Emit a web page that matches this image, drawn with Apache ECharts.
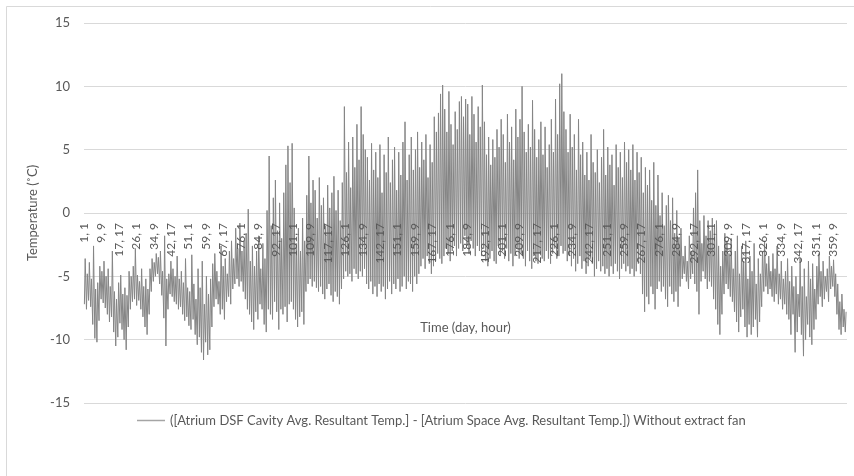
<!DOCTYPE html>
<html>
<head>
<meta charset="utf-8">
<script src="https://cdn.jsdelivr.net/npm/echarts@6/dist/echarts.min.js"></script>
<style>
html,body{margin:0;padding:0;background:#fff;}
#chart{width:854px;height:476px;}
</style>
</head>
<body>
<div id="chart"></div>
<script>
// Daily minimum (night) values of the temperature difference, days 1..365
const dayLow = [
-7.2,-7.6,-6.9,-7.4,-8.8,-9.9,-10.2,-8.5,-6.8,-7.1,
-7.5,-8.0,-8.6,-8.2,-9.4,-10.5,-9.8,-8.7,-9.2,-10.0,
-10.8,-9.0,-7.6,-7.0,-6.8,-7.3,-6.9,-7.6,-8.2,-9.0,
-9.6,-8.0,-6.2,-5.4,-5.0,-4.8,-5.6,-6.5,-8.3,-10.5,
-7.6,-6.4,-6.6,-7.0,-7.2,-7.6,-7.4,-8.0,-8.5,-8.2,
-8.9,-9.2,-8.4,-9.6,-10.4,-9.8,-11.0,-11.6,-10.2,-11.2,
-10.8,-9.0,-7.4,-6.8,-7.2,-8.0,-7.6,-8.4,-7.0,-6.6,
-7.2,-6.0,-5.6,-5.2,-5.8,-5.4,-6.2,-6.8,-7.6,-8.0,
-8.6,-9.2,-7.8,-8.4,-7.2,-7.6,-8.8,-9.4,-7.6,-8.0,
-8.4,-7.0,-7.8,-9.2,-7.6,-8.0,-7.4,-8.6,-7.2,-7.0,
-7.6,-8.4,-9.0,-8.2,-7.8,-8.8,-6.2,-5.6,-5.2,-5.8,
-5.4,-5.9,-6.2,-5.8,-6.4,-6.8,-6.0,-5.6,-6.5,-7.0,
-6.2,-6.6,-7.2,-6.0,-5.2,-4.6,-5.0,-4.8,-5.4,-4.4,
-4.8,-5.2,-4.6,-5.0,-4.4,-5.6,-6.0,-5.4,-6.4,-5.8,
-6.6,-5.6,-6.2,-5.8,-6.8,-6.0,-5.4,-6.4,-5.6,-6.0,
-5.2,-6.2,-5.8,-5.0,-6.0,-5.4,-5.6,-6.2,-5.0,-5.6,
-4.8,-4.2,-3.6,-4.4,-3.4,-4.0,-4.8,-4.2,-3.8,-3.2,
-3.6,-4.0,-3.4,-2.8,-3.2,-3.8,-3.0,-2.6,-3.4,-2.8,
-2.4,-3.0,-1.8,-2.6,-3.2,-2.2,-2.8,-3.4,-2.6,-3.0,
-3.4,-2.8,-3.8,-4.2,-3.6,-3.0,-3.8,-4.0,-2.6,-3.4,
-3.0,-3.6,-2.8,-3.8,-3.2,-4.2,-3.4,-2.8,-3.6,-3.2,
-3.6,-4.2,-3.0,-3.8,-4.4,-3.4,-3.8,-4.0,-3.2,-3.6,
-3.8,-3.0,-3.6,-4.0,-3.2,-2.8,-3.6,-3.4,-2.6,-3.2,
-3.0,-3.8,-3.4,-4.2,-3.6,-4.6,-4.0,-3.4,-4.4,-3.8,
-4.8,-4.2,-3.6,-4.0,-5.0,-4.4,-3.8,-4.6,-4.2,-4.8,
-4.4,-5.0,-4.2,-4.8,-4.0,-4.6,-5.2,-4.4,-4.0,-4.6,
-4.2,-4.8,-4.4,-5.0,-4.6,-4.0,-4.8,-6.4,-7.8,-6.6,
-7.2,-5.8,-6.4,-7.6,-6.0,-5.4,-6.2,-5.8,-6.8,-7.4,
-5.8,-6.4,-7.0,-6.2,-7.4,-5.8,-5.2,-4.8,-5.4,-6.0,
-5.2,-4.8,-5.6,-6.2,-8.0,-5.4,-4.6,-5.2,-6.0,-5.4,
-5.8,-6.8,-7.6,-8.8,-9.6,-8.0,-6.4,-5.6,-6.0,-6.6,
-7.0,-7.8,-8.6,-9.4,-8.2,-7.6,-9.0,-9.8,-8.8,-9.6,
-9.0,-8.4,-9.8,-8.6,-7.4,-6.2,-5.8,-6.4,-6.0,-6.6,
-7.0,-6.4,-7.2,-6.8,-7.6,-7.2,-8.0,-8.4,-9.6,-8.0,
-11.0,-9.4,-8.2,-9.6,-11.3,-10.0,-8.8,-9.8,-10.4,-9.2,
-8.4,-7.2,-6.6,-7.4,-6.8,-6.2,-7.0,-6.0,-5.8,-6.6,
-8.0,-9.2,-9.6,-9.0,-9.4
];
// Daily maximum (day-time peak) values, days 1..365
const dayHigh = [
-3.6,-4.8,-3.9,-5.2,-2.6,-6.0,-5.5,-4.2,-4.6,-3.8,
-5.0,-4.4,-5.8,-3.0,-6.2,-6.8,-5.5,-4.9,-6.4,-5.9,
-6.5,-4.6,-5.0,-4.2,-2.8,-4.9,-5.4,-4.4,-5.8,-5.2,
-6.0,-4.4,-3.6,-3.9,-3.2,-3.5,-3.0,-4.6,-1.8,-5.2,
-4.8,-3.8,-4.4,-5.0,-3.4,-5.2,-4.6,-5.5,-3.6,-5.9,
-6.2,-3.3,-5.6,-6.8,-4.4,-5.9,-3.8,-7.2,-5.0,-6.4,
-5.2,-4.0,-3.2,-4.6,-5.4,-2.6,-4.2,-3.6,-4.8,-3.0,
-2.2,-3.6,-1.2,-2.8,-0.8,-3.0,-2.2,-1.6,0.3,-3.8,
-2.6,-4.2,-3.0,-1.8,-4.4,-2.4,-3.6,0.2,4.5,-1.0,
1.2,2.6,-1.4,0.8,-2.0,1.6,3.8,5.3,2.4,5.5,
0.4,-2.4,-1.2,-3.0,-0.4,-2.2,1.4,4.5,0.8,2.6,
1.8,-0.4,2.8,0.6,1.2,-1.0,2.2,0.4,1.6,2.9,
0.2,1.8,-0.6,2.4,8.4,3.2,5.6,2.0,6.0,3.6,
7.0,4.2,8.4,6.2,5.0,4.4,2.6,5.5,3.4,4.8,
2.8,5.4,1.6,4.6,3.2,6.0,2.4,4.2,5.2,1.8,
4.8,3.0,5.6,7.2,2.6,4.6,6.0,3.4,5.0,6.4,
3.6,5.6,4.2,6.2,2.8,5.4,4.0,7.6,6.4,7.9,
9.4,10.1,8.2,6.4,9.6,7.0,5.4,8.0,6.6,8.8,
9.2,7.6,9.0,8.6,6.2,9.2,7.8,5.6,8.4,6.8,
10.1,7.2,4.6,6.0,3.8,5.8,4.4,6.6,5.2,7.4,
6.2,4.0,7.8,5.6,6.8,4.2,8.2,6.0,7.4,10.0,
6.4,4.8,7.0,5.2,8.9,6.6,4.4,5.8,7.2,4.6,
6.8,3.6,5.4,7.4,4.8,9.0,6.2,10.2,11.0,8.0,
6.6,4.8,7.8,5.2,6.2,3.4,7.4,4.6,5.6,3.0,
4.8,2.6,6.2,4.0,3.2,5.0,2.4,4.4,6.6,3.0,
5.2,3.8,4.6,2.2,5.4,3.6,4.8,2.8,5.6,4.0,
5.0,3.4,5.4,2.6,4.8,3.2,4.4,1.6,3.6,2.2,
3.4,1.0,4.0,0.6,3.0,-0.2,1.6,-1.0,0.6,1.4,
-0.6,1.2,-1.6,0.2,-2.0,-1.2,-3.4,-2.6,-3.8,-1.8,
-3.0,0.4,1.6,3.4,-0.6,-2.4,-0.2,-1.8,-0.6,-1.4,
-0.4,-1.2,-0.6,-2.6,-4.2,-3.0,-1.6,-2.2,-3.2,-2.0,
-4.4,-3.0,-1.8,-4.8,-2.6,-3.8,-2.2,-5.2,-3.4,-4.6,
-2.4,-5.6,-3.6,-4.8,-3.0,-2.2,-4.0,-3.4,-4.6,-3.2,
-4.4,-2.6,-4.8,-3.8,-5.2,-4.6,-3.6,-5.4,-4.2,-5.8,
-5.0,-6.4,-3.6,-5.8,-4.4,-6.6,-3.8,-5.2,-4.0,-6.0,
-4.2,-3.2,-4.6,-3.8,-5.0,-4.4,-3.4,-4.2,-3.7,-4.8,
-5.6,-7.0,-6.4,-7.6,-7.8
];
const dayCount = 365;
const hoursPerDay = 24;
const lowHour = 5;   // hour of day where the minimum is placed
const highHour = 14; // hour of day where the maximum is placed
const yTicks = { min: -15, max: 15, step: 5 };
const seriesName = '([Atrium DSF Cavity Avg. Resultant Temp.] - [Atrium Space Avg. Resultant Temp.]) Without extract fan';
const xTitle = 'Time (day, hour)';
const yTitle = 'Temperature (\u02DAC)';

// category axis: one category per hour, labelled "day, hour"
const categories = [];
for (let d = 1; d <= dayCount; d++) {
  for (let h = 1; h <= hoursPerDay; h++) categories.push(d + ', ' + h);
}
const seriesData = [];
for (let d = 0; d < dayCount; d++) {
  seriesData.push([d * hoursPerDay + lowHour - 1, dayLow[d]]);
  seriesData.push([d * hoursPerDay + highHour - 1, dayHigh[d]]);
}

const GRID = { left: 84, right: 7, top: 23, bottom: 73 };
const plotHeight = 476 - GRID.top - GRID.bottom;
// move the category axis up to the value 0 (as in the original chart)
const zeroOffset = -plotHeight * (0 - yTicks.min) / (yTicks.max - yTicks.min);

const FONT = 'Lato';
const chart = echarts.init(document.getElementById('chart'), null, { renderer: 'canvas' });
chart.setOption({
  animation: false,
  backgroundColor: '#ffffff',
  textStyle: { fontFamily: FONT },
  graphic: [
    { type: 'line', shape: { x1: 6.5, y1: 6.5, x2: 854, y2: 6.5 }, style: { stroke: '#d9d9d9', lineWidth: 1 }, silent: true },
    { type: 'line', shape: { x1: 6.5, y1: 6.5, x2: 6.5, y2: 476 }, style: { stroke: '#d9d9d9', lineWidth: 1 }, silent: true }
  ],
  grid: { left: GRID.left, right: GRID.right, top: GRID.top, bottom: GRID.bottom, containLabel: false, outerBoundsMode: 'none' },
  legend: {
    left: 132, top: 409,
    icon: 'rect', itemWidth: 28, itemHeight: 1.5, itemGap: 6,
    textStyle: { fontFamily: FONT, fontSize: 13, color: '#595959' },
    data: [seriesName]
  },
  xAxis: {
    type: 'category',
    data: categories,
    boundaryGap: true,
    position: 'bottom',
    offset: zeroOffset,
    z: 10,
    name: xTitle,
    nameLocation: 'middle',
    nameGap: 108,
    nameTextStyle: { fontFamily: FONT, fontSize: 13, color: '#595959' },
    axisLine: { show: false, onZero: false },
    axisTick: { show: false },
    axisLabel: { interval: 199, rotate: 90, margin: 10, fontFamily: FONT, fontSize: 12, color: '#595959' },
    splitLine: { show: false }
  },
  yAxis: {
    type: 'value',
    min: yTicks.min, max: yTicks.max, interval: yTicks.step,
    name: yTitle,
    nameLocation: 'middle',
    nameRotate: 90,
    nameGap: 32,
    nameTextStyle: { fontFamily: FONT, fontSize: 13, color: '#595959' },
    axisLine: { show: false },
    axisTick: { show: false },
    axisLabel: { margin: 14, fontFamily: FONT, fontSize: 13, color: '#595959' },
    splitLine: { lineStyle: { color: '#d9d9d9', width: 1 } }
  },
  series: [{
    name: seriesName,
    type: 'line',
    data: seriesData,
    symbol: 'none',
    lineStyle: { color: '#858585', width: 1 },
    itemStyle: { color: '#a5a5a5' },
    z: 2
  }]
});
</script>
</body>
</html>
